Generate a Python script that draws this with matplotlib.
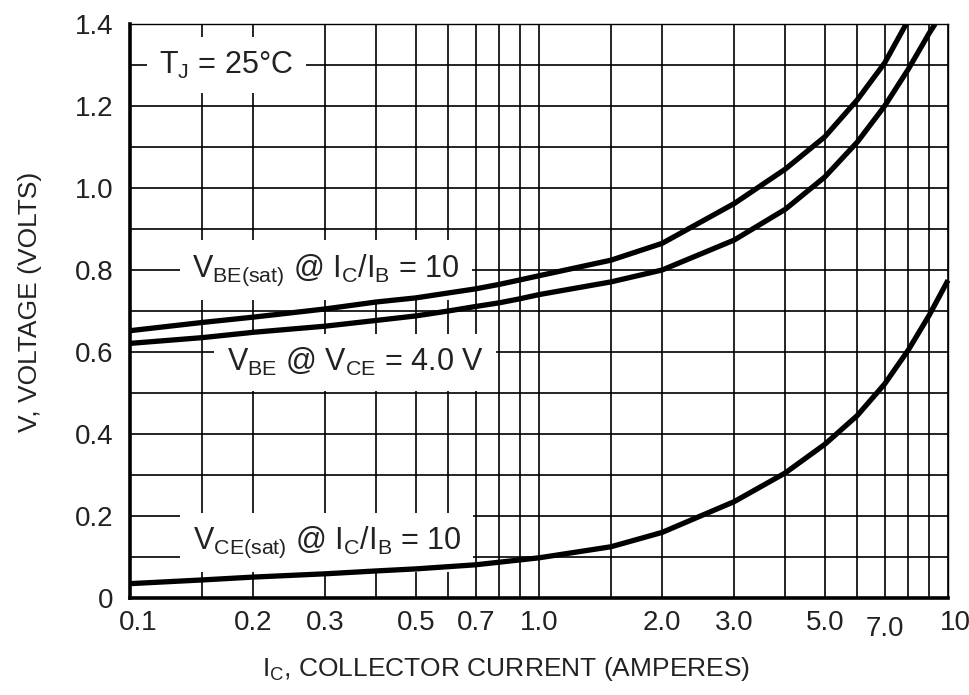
import numpy as np
import matplotlib
matplotlib.use('Agg')
import matplotlib.pyplot as plt
from matplotlib import font_manager
from matplotlib.ticker import FixedLocator, NullFormatter
import matplotlib.transforms as mtransforms

# prefer a narrow sans if one is installed
installed = {f.name for f in font_manager.fontManager.ttflist}
family = ['Liberation Sans', 'DejaVu Sans']
for cand in ('Liberation Sans Narrow', 'Arial Narrow', 'Nimbus Sans Narrow'):
    if cand in installed:
        family.insert(0, cand)
        break
plt.rcParams['font.family'] = family

# collector current (A) and the three voltage curves (V), T_J = 25 C
ic_vbe_sat = [0.1, 0.15, 0.2, 0.3, 0.4, 0.5, 0.6, 0.7, 0.8, 0.9, 1.0, 1.5, 2.0, 3.0, 4.0, 5.0, 6.0, 7.0, 7.9]
vbe_sat = [0.652, 0.672, 0.685, 0.705, 0.722, 0.732, 0.744, 0.754, 0.765, 0.776, 0.786, 0.824, 0.865, 0.962,
           1.046, 1.125, 1.215, 1.305, 1.40]

ic_vbe = [0.1, 0.15, 0.2, 0.3, 0.4, 0.5, 0.6, 0.7, 0.8, 0.9, 1.0, 1.5, 2.0, 3.0, 4.0, 5.0, 6.0, 7.0, 8.0, 9.0, 9.3]
vbe = [0.621, 0.635, 0.648, 0.663, 0.677, 0.688, 0.700, 0.711, 0.720, 0.730, 0.740, 0.771, 0.80, 0.873,
       0.948, 1.027, 1.112, 1.20, 1.29, 1.378, 1.40]

ic_vce_sat = [0.1, 0.15, 0.2, 0.3, 0.4, 0.5, 0.7, 1.0, 1.5, 2.0, 3.0, 4.0, 5.0, 6.0, 7.0, 8.0, 9.0, 10.0]
vce_sat = [0.035, 0.044, 0.051, 0.059, 0.066, 0.071, 0.081, 0.098, 0.125, 0.16, 0.235, 0.305, 0.375, 0.445,
           0.522, 0.605, 0.69, 0.775]

x_major = [0.1, 0.2, 0.3, 0.5, 0.7, 1.0, 2.0, 3.0, 5.0, 7.0, 10.0]
x_labels = ['0.1', '0.2', '0.3', '0.5', '0.7', '1.0', '2.0', '3.0', '5.0', '7.0', '10']
x_minor = [0.15, 0.4, 0.6, 0.8, 0.9, 1.5, 4.0, 6.0, 8.0, 9.0]
y_major = [0, 0.2, 0.4, 0.6, 0.8, 1.0, 1.2, 1.4]
y_labels = ['0', '0.2', '0.4', '0.6', '0.8', '1.0', '1.2', '1.4']
y_minor = [0.1, 0.3, 0.5, 0.7, 0.9, 1.1, 1.3]

W, H = 970, 695
fig = plt.figure(figsize=(W / 100, H / 100), dpi=100)
ax = fig.add_axes([130 / W, 1 - 598 / H, (948 - 130) / W, (598 - 24) / H])

ax.set_xscale('log')
ax.set_xlim(0.1, 10)
ax.set_ylim(0, 1.4)

ax.xaxis.set_major_locator(FixedLocator(x_major))
ax.xaxis.set_minor_locator(FixedLocator(x_minor))
ax.xaxis.set_minor_formatter(NullFormatter())
ax.set_xticklabels(x_labels)
ax.yaxis.set_major_locator(FixedLocator(y_major))
ax.yaxis.set_minor_locator(FixedLocator(y_minor))
ax.set_yticklabels(y_labels)

ax.tick_params(which='both', length=0, labelsize=20, colors='#222222')
ax.tick_params(axis='x', pad=9)
ax.tick_params(axis='y', pad=12)
ax.grid(which='both', color='black', lw=1.2, zorder=1)
ax.set_axisbelow(True)

for side in ('left', 'bottom'):
    ax.spines[side].set_linewidth(2.6)
for side in ('top', 'right'):
    ax.spines[side].set_linewidth(1.0)

# nudge a few tick labels like the printed sheet
tl = ax.get_xticklabels()
tl[0].set_transform(tl[0].get_transform() + mtransforms.ScaledTranslation(8 / 100, 0, fig.dpi_scale_trans))
tl[9].set_transform(tl[9].get_transform() + mtransforms.ScaledTranslation(0, -5 / 100, fig.dpi_scale_trans))
tl[10].set_transform(tl[10].get_transform() + mtransforms.ScaledTranslation(7 / 100, 0, fig.dpi_scale_trans))

lw = 3.8
ax.plot(ic_vbe_sat, vbe_sat, color='black', lw=lw, zorder=4, solid_capstyle='butt', solid_joinstyle='round')
ax.plot(ic_vbe, vbe, color='black', lw=lw, zorder=4, solid_capstyle='butt', solid_joinstyle='round')
ax.plot(ic_vce_sat, vce_sat, color='black', lw=lw, zorder=4, solid_capstyle='butt', solid_joinstyle='round',
        clip_on=False)

box = dict(boxstyle='square,pad=0.4', fc='white', ec='none')
kw = dict(fontsize=22, color='#222222', ha='center', va='center', bbox=box, zorder=3)
ax.text(0.172, 1.30, 'T$_\\mathregular{J}$ = 25°C', **kw)
ax.text(0.301, 0.80, 'V$_\\mathregular{BE(sat)}$ @ I$_\\mathregular{C}$/I$_\\mathregular{B}$ = 10', **kw)
ax.text(0.355, 0.575, 'V$_\\mathregular{BE}$ @ V$_\\mathregular{CE}$ = 4.0 V', **kw)
ax.text(0.303, 0.135, 'V$_\\mathregular{CE(sat)}$ @ I$_\\mathregular{C}$/I$_\\mathregular{B}$ = 10', **kw)

ax.set_xlabel('I$_\\mathregular{C}$, COLLECTOR CURRENT (AMPERES)', fontsize=19, color='#222222')
ax.xaxis.set_label_coords((506 - 130) / 818, -(655 - 598) / 574)
ax.set_ylabel('V, VOLTAGE (VOLTS)', fontsize=19, color='#222222')
ax.yaxis.set_label_coords(-(130 - 42) / 818, (598 - 302) / 574)

fig.savefig('out.png', dpi=100)
